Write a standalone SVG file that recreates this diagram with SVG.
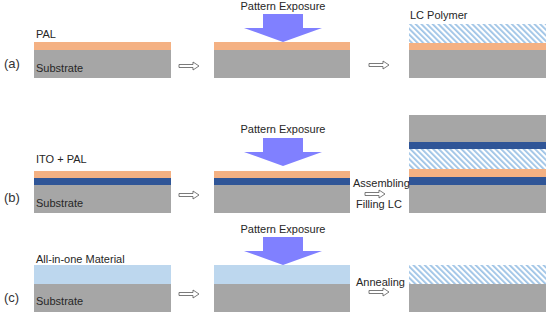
<svg xmlns="http://www.w3.org/2000/svg" width="550" height="315" viewBox="0 0 550 315">
<defs>
<pattern id="hatch" patternUnits="userSpaceOnUse" width="4" height="4" patternTransform="rotate(-45)">
<rect width="4" height="4" fill="#ffffff"/>
<rect width="1.8" height="4" fill="#9dc3e6"/>
</pattern>
<path id="harrow" d="M0,-1.5 H14 V-4 L20,0 L14,4 V1.5 H0 Z"/>
<path id="bigarrow" d="M-20,0 H20 V14 H39 L0,28 L-39,14 H-20 Z"/>
</defs>
<style>
text{font-family:"Liberation Sans",Arial,sans-serif;font-size:11px;fill:#262626}
.lbl{font-size:13px;fill:#333}
.sub{fill:#a6a6a6}
.pal{fill:#f4b183}
.ito{fill:#2f5597}
.aio{fill:#bdd7ee}
.lc{fill:url(#hatch)}
.ha{fill:#ffffff;stroke:#595959;stroke-width:0.8}
.ba{fill:#8080ff}
</style>
<rect width="550" height="315" fill="#ffffff"/>

<!-- Row (a) -->
<g id="row-a">
<text class="lbl" x="4" y="68">(a)</text>
<g id="a1">
<rect class="sub" x="34" y="50" width="137" height="28"/>
<rect class="pal" x="34" y="42" width="137" height="8"/>
<text x="36" y="38">PAL</text>
<text x="36" y="72">Substrate</text>
</g>
<g id="a2">
<rect class="sub" x="214" y="50" width="136" height="28"/>
<rect class="pal" x="214" y="42" width="136" height="8"/>
<use href="#bigarrow" class="ba" transform="translate(283,14)"/>
<text x="283" y="10" text-anchor="middle">Pattern Exposure</text>
</g>
<g id="a3">
<rect class="sub" x="409" y="50" width="137" height="28"/>
<rect class="pal" x="409" y="43" width="137" height="7"/>
<rect class="lc" x="409" y="24" width="137" height="19"/>
<text x="410" y="19">LC Polymer</text>
</g>
</g>

<!-- Row (b) -->
<g id="row-b">
<text class="lbl" x="4" y="202">(b)</text>
<g id="b1">
<rect class="sub" x="34" y="185" width="137" height="28"/>
<rect class="ito" x="34" y="178" width="137" height="7"/>
<rect class="pal" x="34" y="171" width="137" height="7"/>
<text x="36" y="163">ITO + PAL</text>
<text x="36" y="207">Substrate</text>
</g>
<g id="b2">
<rect class="sub" x="214" y="185" width="136" height="28"/>
<rect class="ito" x="214" y="178" width="136" height="7"/>
<rect class="pal" x="214" y="171" width="136" height="7"/>
<use href="#bigarrow" class="ba" transform="translate(283,138)"/>
<text x="283" y="133" text-anchor="middle">Pattern Exposure</text>
</g>
<g id="b3">
<rect class="sub" x="409" y="115" width="137" height="27"/>
<rect class="ito" x="409" y="142" width="137" height="7"/>
<rect class="lc" x="409" y="149" width="137" height="20"/>
<rect class="pal" x="409" y="169" width="137" height="8"/>
<rect class="ito" x="409" y="177" width="137" height="8"/>
<rect class="sub" x="409" y="185" width="137" height="28"/>
</g>
<text x="353" y="187">Assembling</text>
<text x="356" y="208">Filling LC</text>
</g>

<!-- Row (c) -->
<g id="row-c">
<text class="lbl" x="4" y="302">(c)</text>
<g id="c1">
<rect class="sub" x="34" y="284" width="137" height="28"/>
<rect class="aio" x="34" y="265" width="137" height="19"/>
<text x="36" y="263">All-in-one Material</text>
<text x="36" y="305">Substrate</text>
</g>
<g id="c2">
<rect class="sub" x="214" y="284" width="136" height="28"/>
<rect class="aio" x="214" y="265" width="136" height="19"/>
<use href="#bigarrow" class="ba" transform="translate(283,237)"/>
<text x="283" y="233" text-anchor="middle">Pattern Exposure</text>
</g>
<g id="c3">
<rect class="sub" x="409" y="284" width="137" height="28"/>
<rect class="lc" x="409" y="265" width="137" height="19"/>
</g>
<text x="356" y="286">Annealing</text>
</g>

<!-- connectors -->
<g id="connectors">
<use href="#harrow" class="ha" transform="translate(179,66)"/>
<use href="#harrow" class="ha" transform="translate(369,65)"/>
<use href="#harrow" class="ha" transform="translate(179,195)"/>
<use href="#harrow" class="ha" transform="translate(365,194)"/>
<use href="#harrow" class="ha" transform="translate(179,294)"/>
<use href="#harrow" class="ha" transform="translate(369,292)"/>
</g>
</svg>
